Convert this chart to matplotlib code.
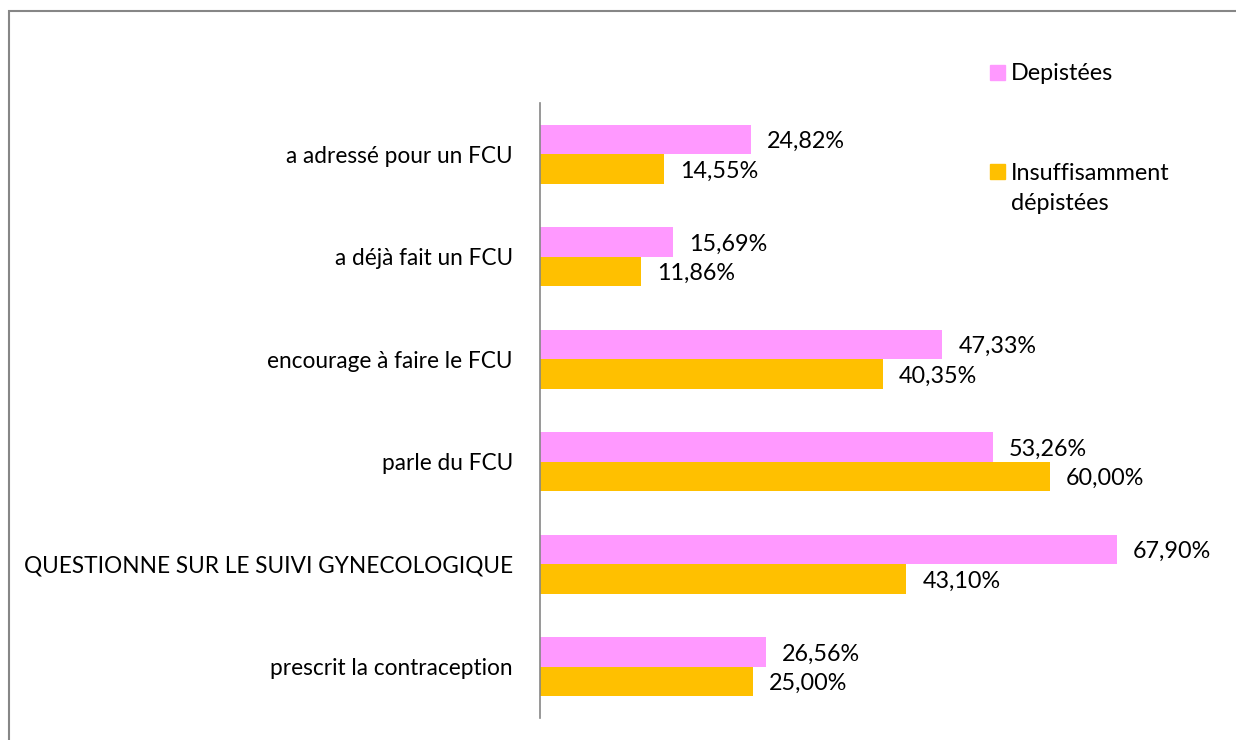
import matplotlib.pyplot as plt
from matplotlib.patches import Rectangle
import numpy as np

plt.rcParams['font.family'] = ['Lato', 'DejaVu Sans']

categories = [
    'a adressé pour un FCU',
    'a déjà fait un FCU',
    'encourage à faire le FCU',
    'parle du FCU',
    'QUESTIONNE SUR LE SUIVI GYNECOLOGIQUE',
    'prescrit la contraception',
]
depistees = [24.82, 15.69, 47.33, 53.26, 67.90, 26.56]
insuffisant = [14.55, 11.86, 40.35, 60.00, 43.10, 25.00]
series_names = ['Depistées', 'Insuffisamment\ndépistées']

pink = '#FF99FF'
gold = '#FFC000'
bar_h = 0.29

fig = plt.figure(figsize=(12.36, 7.4), dpi=100)
ax = fig.add_axes([540 / 1236, 22 / 740, 680 / 1236, 615 / 740])

y = np.arange(len(categories))[::-1]
ax.barh(y + bar_h / 2, depistees, height=bar_h, color=pink)
ax.barh(y - bar_h / 2, insuffisant, height=bar_h, color=gold)

for yi, a, b in zip(y, depistees, insuffisant):
    ax.annotate(f'{a:.2f}%'.replace('.', ','), (a, yi + bar_h / 2),
                xytext=(16, -2), textcoords='offset pixels',
                va='center', ha='left', fontsize=16.8)
    ax.annotate(f'{b:.2f}%'.replace('.', ','), (b, yi - bar_h / 2),
                xytext=(16, -2), textcoords='offset pixels',
                va='center', ha='left', fontsize=16.8)

ax.set_xlim(0, 80)
ax.set_ylim(-0.5, len(categories) - 0.5)
ax.set_yticks(y)
ax.set_yticklabels(categories, fontsize=16.3)
ax.tick_params(axis='y', length=0, pad=19.5)
ax.set_xticks([])
for side in ['top', 'right', 'bottom']:
    ax.spines[side].set_visible(False)
ax.spines['left'].set_color('#868686')
ax.spines['left'].set_linewidth(1.2)

# legend drawn by hand so the marker sits on the first text line
W, H = 1236, 740
fig.patches.append(Rectangle((990 / W, 1 - (73 + 7) / H), 15 / W, 15 / H,
                             transform=fig.transFigure, color=pink))
fig.text(1011 / W, 1 - 73 / H, series_names[0], fontsize=16.8,
         va='center', ha='left')
fig.patches.append(Rectangle((990 / W, 1 - (172 + 7) / H), 15 / W, 15 / H,
                             transform=fig.transFigure, color=gold))
fig.text(1011 / W, 1 - 163 / H, series_names[1], fontsize=16.8,
         va='top', ha='left', linespacing=1.55)

# outer frame
fig.patches.append(Rectangle((8.5 / W, -0.1), 1.2, 1 - 10.5 / H + 0.1,
                             transform=fig.transFigure, fill=False,
                             edgecolor='#868686', linewidth=1.5))

fig.savefig('out.png', dpi=100)
